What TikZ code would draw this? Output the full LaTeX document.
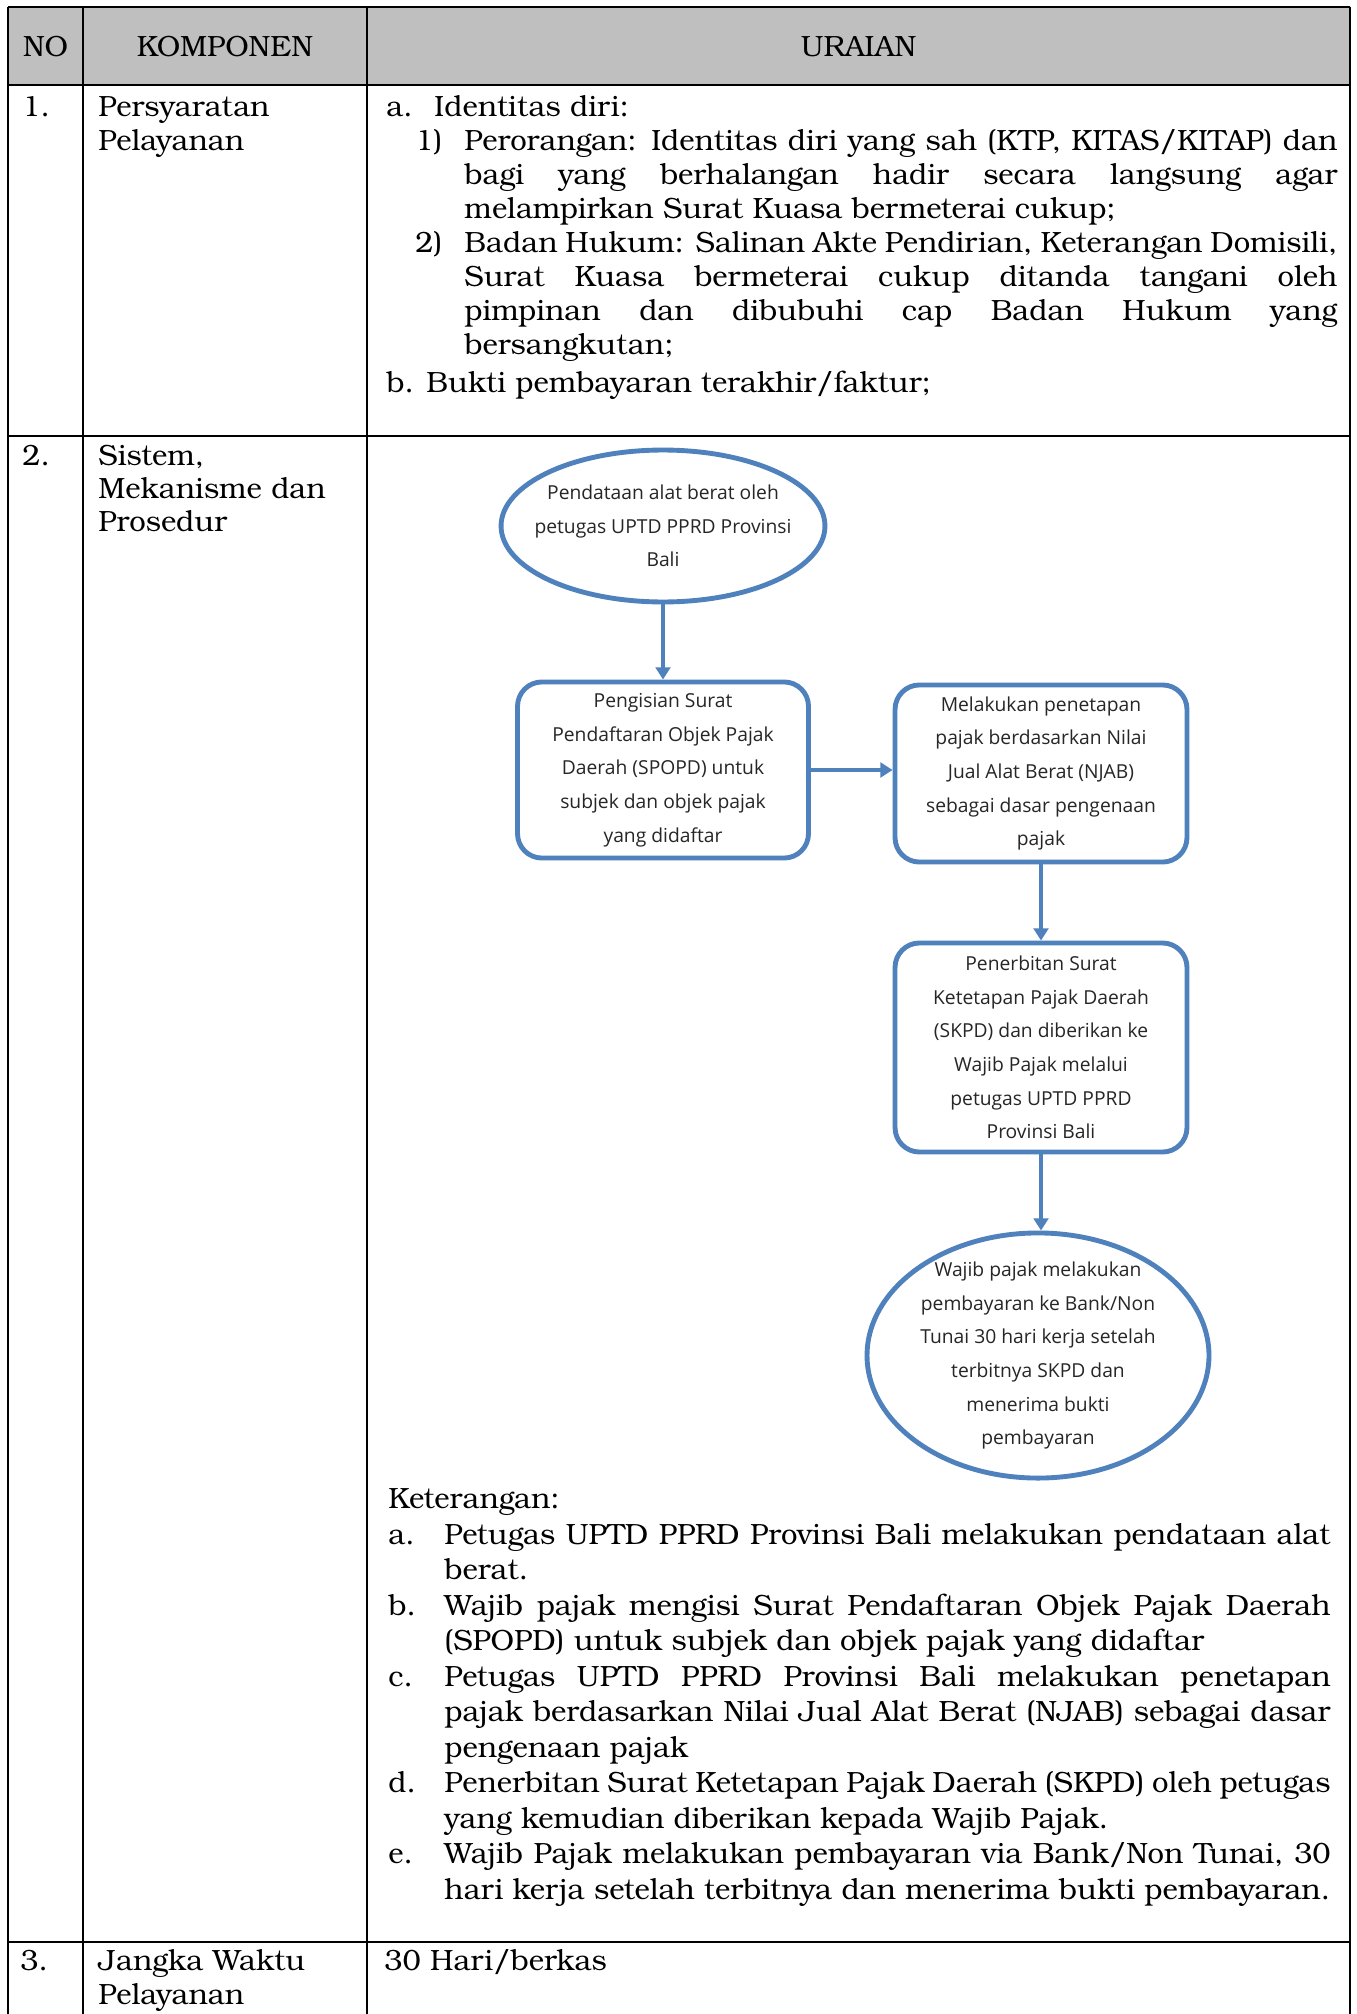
\documentclass[tikz,border=0pt]{standalone}
\usepackage{fontspec}
\newfontfamily\bonum{texgyrebonum-regular.otf}
\newfontfamily\osans{Open Sans}
\usetikzlibrary{arrows.meta,shapes.geometric}

\definecolor{flowblue}{RGB}{79,129,189}
\definecolor{headgray}{RGB}{191,191,191}
\definecolor{flowtext}{RGB}{38,38,38}

% one justified line of a fixed width
\newcommand\jline[2]{\makebox[#1][s]{#2}}

\tikzset{
  tabfont/.style={font=\bonum\fontsize{12}{14}\selectfont},
  celltext/.style={tabfont, inner sep=0pt, anchor=base west},
  headtext/.style={tabfont, inner sep=0pt, anchor=center},
  gridline/.style={line width=1pt, black},
  flowfont/.style={font=\osans\fontsize{7.9}{13.8}\selectfont, text=flowtext},
  flowbox/.style={draw=flowblue, line width=2pt, rounded corners=10pt, fill=white,
    align=center, flowfont, inner sep=0pt},
  flowoval/.style={draw=flowblue, line width=2pt, ellipse, fill=white, inner sep=0pt},
  ovaltext/.style={align=center, flowfont, inner sep=0pt},
  flowarrow/.style={draw=flowblue, line width=1.6pt, -{Triangle[width=6pt,length=5pt]}},
}

\begin{document}
\begin{tikzpicture}[x=0.41pt, y=-0.41pt]
\useasboundingbox (0,0) rectangle (1356,2014);
\clip (0,0) rectangle (1356,2014);
\fill[white] (0,0) rectangle (1356,2014);

% header band
\fill[headgray] (8,7) rectangle (1350,85);

% table rules
\draw[gridline] (8,7) -- (1350,7);
\draw[gridline] (8,85) -- (1350,85);
\draw[gridline] (8,436) -- (1350,436);
\draw[gridline] (8,1942) -- (1350,1942);
\draw[gridline] (8,7) -- (8,2030);
\draw[gridline] (83,7) -- (83,2030);
\draw[gridline] (367,7) -- (367,2030);
\draw[gridline] (1350,7) -- (1350,2030);

% header
\node[headtext] (hno) at (45.5,47) {NO};
\node[headtext] (hkomp) at (225,47) {KOMPONEN};
\node[headtext] (hur) at (858.5,47) {URAIAN};

% row 1
\node[celltext] (n1) at (22,117) {1.};
\node[celltext] (k1a) at (98,117) {Persyaratan};
\node[celltext] (k1b) at (98,151) {Pelayanan};
\node[celltext] (ua) at (386,117) {a.};
\node[celltext] (uat) at (434,117) {Identitas diri:};
\node[celltext] (u1) at (415,151) {1)};
\node[celltext] (u1a) at (464,151) {\jline{357.9pt}{Perorangan: Identitas diri yang sah (KTP, KITAS/KITAP) dan}};
\node[celltext] (u1b) at (464,185) {\jline{357.9pt}{bagi yang berhalangan hadir secara langsung agar}};
\node[celltext] (u1c) at (464,219) {melampirkan Surat Kuasa bermeterai cukup;};
\node[celltext] (u2) at (415,253) {2)};
\node[celltext] (u2a) at (464,253) {\jline{357.9pt}{Badan Hukum: Salinan Akte Pendirian, Keterangan Domisili,}};
\node[celltext] (u2b) at (464,287) {\jline{357.9pt}{Surat Kuasa bermeterai cukup ditanda tangani oleh}};
\node[celltext] (u2c) at (464,321) {\jline{357.9pt}{pimpinan dan dibubuhi cap Badan Hukum yang}};
\node[celltext] (u2d) at (464,355) {bersangkutan;};
\node[celltext] (ub) at (386,392) {b. Bukti pembayaran terakhir/faktur;};

% row 2
\node[celltext] (n2) at (22,465) {2.};
\node[celltext] (k2a) at (98,465) {Sistem,};
\node[celltext] (k2b) at (98,498) {Mekanisme dan};
\node[celltext] (k2c) at (98,531) {Prosedur};

% flowchart
\node[flowoval, minimum width=132.8pt, minimum height=62.3pt,
  label={[ovaltext]center:Pendataan alat berat oleh\\petugas UPTD PPRD Provinsi\\Bali}]
  (start) at (663,526) {};
\node[flowbox, minimum width=119.3pt, minimum height=72.2pt] (fill) at (663,770)
  {Pengisian Surat\\Pendaftaran Objek Pajak\\Daerah (SPOPD) untuk\\subjek dan objek pajak\\yang didaftar};
\node[flowbox, minimum width=119.7pt, minimum height=72.6pt] (assess) at (1041,773.5)
  {Melakukan penetapan\\pajak berdasarkan Nilai\\Jual Alat Berat (NJAB)\\sebagai dasar pengenaan\\pajak};
\node[flowbox, minimum width=119.7pt, minimum height=85.7pt] (issue) at (1041,1047.5)
  {Penerbitan Surat\\Ketetapan Pajak Daerah\\(SKPD) dan diberikan ke\\Wajib Pajak melalui\\petugas UPTD PPRD\\Provinsi Bali};
\node[flowoval, minimum width=140.2pt, minimum height=100.5pt,
  label={[ovaltext]center:Wajib pajak melakukan\\pembayaran ke Bank/Non\\Tunai 30 hari kerja setelah\\terbitnya SKPD dan\\menerima bukti\\pembayaran}]
  (pay) at (1038,1355.5) {};

\draw[flowarrow] (start.south) -- (fill.north);
\draw[flowarrow] (fill.east) -- (fill.east -| assess.west);
\draw[flowarrow] (assess.south) -- (issue.north);
\draw[flowarrow] (issue.south) -- (issue.south |- pay.north);

% notes below the flowchart
\node[celltext] (ket) at (388,1508.5) {Keterangan:};
\node[celltext] (ka) at (388,1544) {a.};
\node[celltext] (ka1) at (444,1544) {\jline{363.3pt}{Petugas UPTD PPRD Provinsi Bali melakukan pendataan alat}};
\node[celltext] (ka2) at (444,1579.5) {berat.};
\node[celltext] (kb) at (388,1615) {b.};
\node[celltext] (kb1) at (444,1615) {\jline{363.3pt}{Wajib pajak mengisi Surat Pendaftaran Objek Pajak Daerah}};
\node[celltext] (kb2) at (444,1650.5) {(SPOPD) untuk subjek dan objek pajak yang didaftar};
\node[celltext] (kc) at (388,1686) {c.};
\node[celltext] (kc1) at (444,1686) {\jline{363.3pt}{Petugas UPTD PPRD Provinsi Bali melakukan penetapan}};
\node[celltext] (kc2) at (444,1721.5) {\jline{363.3pt}{pajak berdasarkan Nilai Jual Alat Berat (NJAB) sebagai dasar}};
\node[celltext] (kc3) at (444,1757) {pengenaan pajak};
\node[celltext] (kd) at (388,1792.5) {d.};
\node[celltext] (kd1) at (444,1792.5) {\jline{363.3pt}{Penerbitan Surat Ketetapan Pajak Daerah (SKPD) oleh petugas}};
\node[celltext] (kd2) at (444,1828) {yang kemudian diberikan kepada Wajib Pajak.};
\node[celltext] (ke) at (388,1863.5) {e.};
\node[celltext] (ke1) at (444,1863.5) {\jline{363.3pt}{Wajib Pajak melakukan pembayaran via Bank/Non Tunai, 30}};
\node[celltext] (ke2) at (444,1899) {hari kerja setelah terbitnya dan menerima bukti pembayaran.};

% row 3
\node[celltext] (n3) at (20,1970) {3.};
\node[celltext] (k3a) at (98,1970) {Jangka Waktu};
\node[celltext] (k3b) at (98,2004) {Pelayanan};
\node[celltext] (u3) at (384,1970) {30 Hari/berkas};
\end{tikzpicture}
\end{document}
